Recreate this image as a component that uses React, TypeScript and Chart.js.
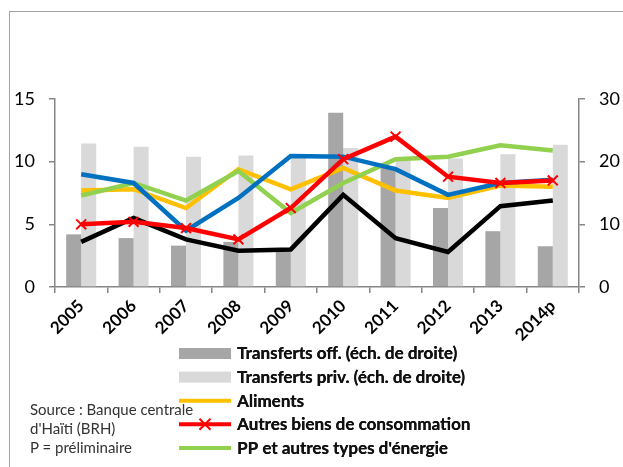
import { useEffect, useRef } from 'react';
import { Chart, registerables } from 'chart.js';

Chart.register(...registerables);

const years = ['2005', '2006', '2007', '2008', '2009', '2010', '2011', '2012', '2013', '2014p'];

// right axis (bars)
const transfertsOff = [8.4, 7.8, 6.6, 7.2, 6.0, 27.8, 19.2, 12.6, 8.9, 6.5];
const transfertsPriv = [22.9, 22.4, 20.8, 21.0, 20.6, 22.2, 20.3, 20.5, 21.2, 22.7];

// left axis (lines)
const aliments = [7.7, 7.8, 6.3, 9.4, 7.8, 9.5, 7.7, 7.1, 8.1, 8.0];
const autresBiens = [5.0, 5.2, 4.7, 3.8, 6.3, 10.2, 12.0, 8.8, 8.3, 8.5];
const ppEnergie = [7.3, 8.3, 6.9, 9.25, 5.9, 8.3, 10.2, 10.4, 11.3, 10.9];
const serieBleue = [9.0, 8.3, 4.5, 7.1, 10.45, 10.4, 9.4, 7.35, 8.3, 8.55];
const serieNoire = [3.6, 5.5, 3.8, 2.9, 3.0, 7.35, 3.9, 2.8, 6.45, 6.9];

const leftTicks = [0, 5, 10, 15];
const rightTicks = [0, 10, 20, 30];

const sourceLines = ['Source : Banque centrale', "d'Haïti (BRH)", 'P = préliminaire'];

const FONT = 'Lato, "Open Sans", sans-serif';
const AXIS = '#868686';

const legendPlugin = {
  id: 'sideLegend',
  afterDraw(chart: any) {
    const ctx = chart.ctx as CanvasRenderingContext2D;
    const items = chart.data.datasets.filter((d: any) => d.inLegend);
    ctx.save();
    items.forEach((ds: any, i: number) => {
      const y = 353.5 + i * 23.6;
      const x0 = 179;
      const x1 = 231;
      if (ds.type === 'bar') {
        ctx.fillStyle = ds.backgroundColor;
        ctx.fillRect(x0, y - 5.5, x1 - x0, 11);
      } else {
        ctx.strokeStyle = ds.borderColor;
        ctx.lineWidth = 4;
        ctx.beginPath();
        ctx.moveTo(x0, y);
        ctx.lineTo(x1, y);
        ctx.stroke();
        if (ds.pointStyle === 'crossRot') {
          const cx = (x0 + x1) / 2;
          const r = 5.5;
          ctx.lineWidth = 2;
          ctx.beginPath();
          ctx.moveTo(cx - r, y - r);
          ctx.lineTo(cx + r, y + r);
          ctx.moveTo(cx + r, y - r);
          ctx.lineTo(cx - r, y + r);
          ctx.stroke();
        }
      }
      ctx.fillStyle = '#111';
      ctx.font = `700 17px Lato`;
      ctx.textBaseline = 'middle';
      ctx.textAlign = 'left';
      ctx.fillText(String(ds.label), 237, y + 0.5);
      // second pass to ensure solid weight
      ctx.fillText(String(ds.label), 237.3, y + 0.5);
    });
    ctx.restore();
  },
};

export default function App() {
  const ref = useRef<HTMLCanvasElement | null>(null);

  useEffect(() => {
    if (!ref.current) return;
    const lineBase = {
      type: 'line' as const,
      yAxisID: 'y',
      borderWidth: 4.5,
      pointRadius: 0,
      tension: 0,
      fill: false,
    };
    const chart = new Chart(ref.current, {
      type: 'bar',
      data: {
        labels: years,
        datasets: [
          {
            type: 'bar',
            label: 'Transferts off. (éch. de droite)',
            data: transfertsOff,
            yAxisID: 'y1',
            backgroundColor: '#a6a6a6',
            order: 10,
            inLegend: true,
          } as any,
          {
            type: 'bar',
            label: 'Transferts priv. (éch. de droite)',
            data: transfertsPriv,
            yAxisID: 'y1',
            backgroundColor: '#d9d9d9',
            order: 11,
            inLegend: true,
          } as any,
          {
            ...lineBase,
            label: 'Aliments',
            data: aliments,
            borderColor: '#ffc000',
            order: 4,
            inLegend: true,
          } as any,
          {
            ...lineBase,
            label: 'Autres biens de consommation',
            data: autresBiens,
            borderColor: '#ff0000',
            pointStyle: 'crossRot',
            pointRadius: 7,
            pointBorderWidth: 2,
            pointBorderColor: '#ff0000',
            pointBackgroundColor: '#ff0000',
            order: 1,
            inLegend: true,
          } as any,
          {
            ...lineBase,
            label: "PP et autres types d'énergie",
            data: ppEnergie,
            borderColor: '#92d050',
            order: 3,
            inLegend: true,
          } as any,
          {
            ...lineBase,
            label: 'Série 6',
            data: serieBleue,
            borderColor: '#0070c0',
            order: 2,
            inLegend: false,
          } as any,
          {
            ...lineBase,
            label: 'Série 7',
            data: serieNoire,
            borderColor: '#000000',
            order: 5,
            inLegend: false,
          } as any,
        ],
      },
      options: {
        responsive: false,
        animation: false,
        layout: { padding: { top: 99, left: 0, right: 0, bottom: 0 } },
        datasets: {
          bar: { categoryPercentage: 0.573, barPercentage: 1 },
        },
        plugins: {
          legend: { display: false },
          tooltip: { enabled: false },
        },
        scales: {
          x: {
            offset: true,
            grid: {
              offset: true,
              drawOnChartArea: false,
              drawTicks: true,
              tickLength: 6,
              color: AXIS,
              lineWidth: 1.5,
            },
            border: { color: AXIS, width: 1.5 },
            ticks: {
              maxRotation: 45,
              minRotation: 45,
              padding: 3,
              color: '#000',
              font: { family: FONT, size: 17, weight: 'bold' },
            },
            afterFit: (s: any) => {
              s.height = 180;
            },
          },
          y: {
            position: 'left',
            min: 0,
            max: 15,
            afterBuildTicks: (s: any) => {
              s.ticks = leftTicks.map((v) => ({ value: v }));
            },
            grid: {
              drawOnChartArea: false,
              drawTicks: true,
              tickLength: 6,
              color: AXIS,
              lineWidth: 1.5,
            },
            border: { color: AXIS, width: 1.5 },
            ticks: {
              padding: 14,
              color: '#000',
              font: { family: FONT, size: 18 },
            },
            afterFit: (s: any) => {
              s.width = 55;
            },
          },
          y1: {
            position: 'right',
            min: 0,
            max: 30,
            afterBuildTicks: (s: any) => {
              s.ticks = rightTicks.map((v) => ({ value: v }));
            },
            grid: {
              drawOnChartArea: false,
              drawTicks: true,
              tickLength: 6,
              color: AXIS,
              lineWidth: 1.5,
            },
            border: { color: AXIS, width: 1.5 },
            ticks: {
              padding: 14,
              color: '#000',
              font: { family: FONT, size: 18 },
            },
            afterFit: (s: any) => {
              s.width = 44;
            },
          },
        },
      } as any,
      plugins: [legendPlugin],
    });
    let alive = true;
    if ((document as any).fonts && (document as any).fonts.load) {
      Promise.all([
        (document as any).fonts.load('700 17px Lato'),
        (document as any).fonts.load('18px Lato'),
      ])
        .then(() => {
          if (alive) chart.update();
        })
        .catch(() => {});
    }
    return () => {
      alive = false;
      chart.destroy();
    };
  }, []);

  return (
    <div
      style={{
        position: 'fixed',
        left: 0,
        top: 0,
        width: 623,
        height: 467,
        overflow: 'hidden',
        background: '#fff',
      }}
    >
      <div
        style={{
          position: 'absolute',
          left: 9,
          top: 11,
          width: 700,
          height: 600,
          border: '1.5px solid #a3a3a3',
          boxSizing: 'border-box',
        }}
      />
      <canvas ref={ref} width={623} height={467} style={{ position: 'absolute', left: 0, top: 0 }} />
      <div
        style={{
          position: 'absolute',
          left: 30,
          top: 400,
          fontFamily: FONT,
          fontSize: 15,
          lineHeight: '19px',
          color: '#333',
        }}
      >
        {sourceLines.map((l) => (
          <div key={l}>{l}</div>
        ))}
      </div>
    </div>
  );
}
